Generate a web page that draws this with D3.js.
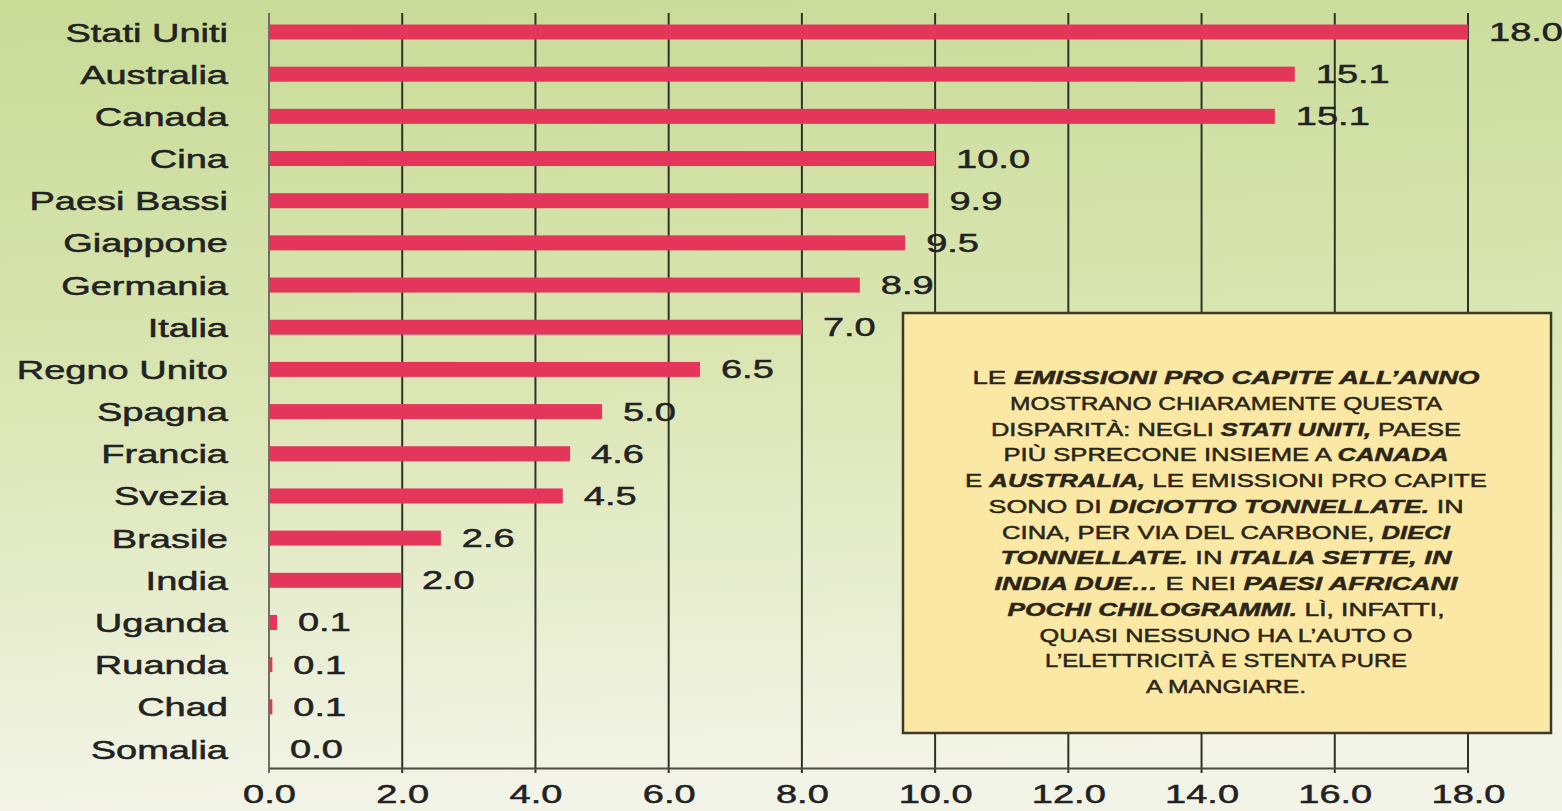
<!DOCTYPE html>
<html>
<head>
<meta charset="utf-8">
<script src="https://cdn.jsdelivr.net/npm/d3@7"></script>
<style>
  body { margin: 0; overflow: hidden; }
  text { font-family: "Liberation Sans", Arial, sans-serif; }
</style>
</head>
<body>
<div id="main"></div>
<script>
var width = 1562;
var height = 811;

// countries, top to bottom
var countries = ["Stati Uniti", "Australia", "Canada", "Cina", "Paesi Bassi", "Giappone",
  "Germania", "Italia", "Regno Unito", "Spagna", "Francia", "Svezia", "Brasile", "India",
  "Uganda", "Ruanda", "Chad", "Somalia"];
// printed values (tonnes per capita)
var values = [18.0, 15.1, 15.1, 10.0, 9.9, 9.5, 8.9, 7.0, 6.5, 5.0, 4.6, 4.5, 2.6, 2.0, 0.1, 0.1, 0.1, 0.0];
// bar lengths as drawn in the picture (not always equal to the printed value)
var barLengths = [18.0, 15.4, 15.1, 10.0, 9.9, 9.55, 8.87, 8.0, 6.47, 5.0, 4.52, 4.41, 2.58, 1.98, 0.12, 0.05, 0.05, 0.0];
var xTicks = [0, 2, 4, 6, 8, 10, 12, 14, 16, 18];

// note box text, one array per line: [text, emphasised]
var noteLines = [
  [["LE ", false], ["EMISSIONI PRO CAPITE ALL\u2019ANNO", true]],
  [["MOSTRANO CHIARAMENTE QUESTA", false]],
  [["DISPARIT\u00C0: NEGLI ", false], ["STATI UNITI,", true], [" PAESE", false]],
  [["PI\u00D9 SPRECONE INSIEME A ", false], ["CANADA", true]],
  [["E ", false], ["AUSTRALIA,", true], [" LE EMISSIONI PRO CAPITE", false]],
  [["SONO DI ", false], ["DICIOTTO TONNELLATE.", true], [" IN", false]],
  [["CINA, PER VIA DEL CARBONE, ", false], ["DIECI", true]],
  [["TONNELLATE.", true], [" IN ", false], ["ITALIA SETTE, IN", true]],
  [["INDIA DUE\u2026", true], [" E NEI ", false], ["PAESI AFRICANI", true]],
  [["POCHI CHILOGRAMMI.", true], [" L\u00CC, INFATTI,", false]],
  [["QUASI NESSUNO HA L\u2019AUTO O", false]],
  [["L\u2019ELETTRICIT\u00C0 E STENTA PURE", false]],
  [["A MANGIARE.", false]]
];
var noteWidths = [507, 432, 470, 445, 522, 475, 448, 451, 463, 437, 373, 362, 160];

var STRETCH = 1.52;
var X0 = 269, X1 = 1468;
var GRID_TOP = 13, AXIS_Y = 768;
var BAR_H = 15;

function init(){
  var svg = d3.select("#main")
    .append("svg")
    .attr("width", width)
    .attr("height", height);

  var defs = svg.append("defs");
  var grad = defs.append("linearGradient")
    .attr("id", "bg")
    .attr("x1", 0).attr("y1", 0).attr("x2", 0.1).attr("y2", 1);
  grad.append("stop").attr("offset", "0%").attr("stop-color", "#c8db97");
  grad.append("stop").attr("offset", "50%").attr("stop-color", "#dbe6b4");
  grad.append("stop").attr("offset", "100%").attr("stop-color", "#f3f4e8");

  svg.append("rect")
    .attr("width", width)
    .attr("height", height)
    .attr("fill", "url(#bg)");

  var x = d3.scaleLinear().domain([0, 18]).range([X0, X1]);
  var y = d3.scalePoint().domain(countries).range([32, 749]);

  // vertical gridlines
  svg.append("g").selectAll("line")
    .data(xTicks)
    .enter()
    .append("line")
    .attr("x1", function(d){ return x(d); })
    .attr("x2", function(d){ return x(d); })
    .attr("y1", GRID_TOP)
    .attr("y2", AXIS_Y + 5)
    .attr("stroke", function(d){ return d === 0 ? "#6f6f66" : "#2f3325"; })
    .attr("stroke-width", 2);

  // x axis
  var xAxis = svg.append("g")
    .attr("transform", "translate(0," + AXIS_Y + ")")
    .call(d3.axisBottom(x).tickValues(xTicks).tickFormat(d3.format(".1f")).tickSize(0).tickPadding(17));
  xAxis.select(".domain").attr("stroke", "#4a4a40").attr("stroke-width", 2);
  xAxis.selectAll("text")
    .attr("font-size", 25)
    .attr("fill", "#222")
    .attr("stroke", "#222")
    .attr("stroke-width", 0.5)
    .attr("transform", "scale(" + STRETCH + ",1)")
    .attr("font-family", "Liberation Sans, Arial, sans-serif");

  // y axis labels
  var yAxis = svg.append("g")
    .attr("transform", "translate(" + X0 + ",0)")
    .call(d3.axisLeft(y).tickSize(0).tickPadding(27));
  yAxis.select(".domain").remove();
  yAxis.selectAll("text")
    .attr("font-size", 25)
    .attr("fill", "#222")
    .attr("stroke", "#222")
    .attr("stroke-width", 0.5)
    .attr("dy", "0.36em")
    .attr("transform", "scale(" + STRETCH + ",1)")
    .attr("font-family", "Liberation Sans, Arial, sans-serif");

  // bars
  svg.append("g").selectAll("rect")
    .data(countries)
    .enter()
    .append("rect")
    .attr("x", x(0))
    .attr("y", function(d){ return y(d) - BAR_H / 2; })
    .attr("width", function(d, i){ return x(barLengths[i]) - x(0); })
    .attr("height", BAR_H)
    .attr("fill", "#e4365b");

  // value labels
  svg.append("g").selectAll("g")
    .data(countries)
    .enter()
    .append("g")
    .attr("transform", function(d, i){ return "translate(" + (x(barLengths[i]) + 21) + "," + y(d) + ") scale(" + STRETCH + ",1)"; })
    .append("text")
    .attr("dy", "0.36em")
    .attr("font-size", 25)
    .attr("fill", "#222")
    .attr("stroke", "#222")
    .attr("stroke-width", 0.5)
    .text(function(d, i){ return d3.format(".1f")(values[i]); });

  // note box
  var note = svg.append("g");
  note.append("rect")
    .attr("x", 903)
    .attr("y", 313)
    .attr("width", 648)
    .attr("height", 420)
    .attr("fill", "#fbe8a4")
    .attr("stroke", "#3b3a26")
    .attr("stroke-width", 2.5);

  var lines = note.selectAll("text.note")
    .data(noteLines)
    .enter()
    .append("text")
    .attr("class", "note")
    .attr("x", 1226)
    .attr("y", function(d, i){ return 384 + i * 25.75; })
    .attr("text-anchor", "middle")
    .attr("font-size", 19)
    .attr("fill", "#2b2516")
    .attr("stroke", "#2b2516")
    .attr("stroke-width", 0.5)
    .attr("textLength", function(d, i){ return noteWidths[i]; })
    .attr("lengthAdjust", "spacingAndGlyphs");

  lines.selectAll("tspan")
    .data(function(d){ return d; })
    .enter()
    .append("tspan")
    .attr("font-style", function(d){ return d[1] ? "italic" : "normal"; })
    .attr("font-weight", function(d){ return d[1] ? "bold" : "normal"; })
    .text(function(d){ return d[0]; });
}
init();
</script>
</body>
</html>
